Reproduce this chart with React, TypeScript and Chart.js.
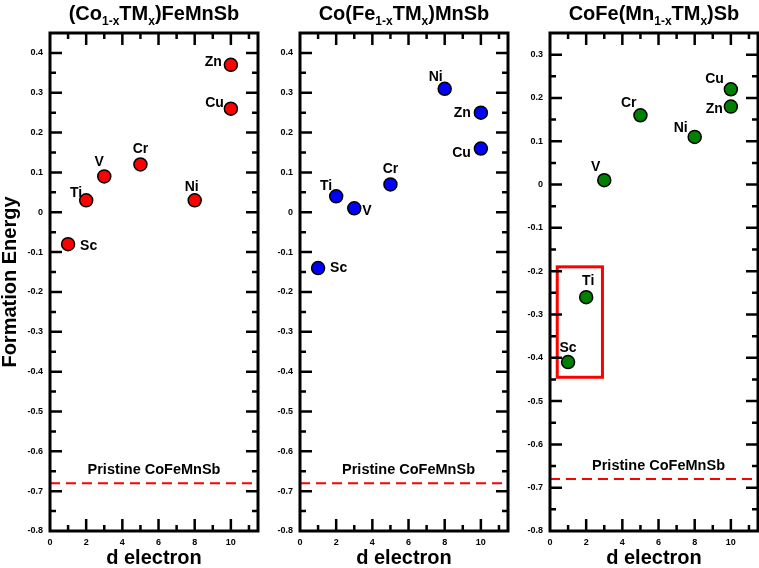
import React, { useEffect, useRef } from 'react';
import { Chart, registerables } from 'chart.js';

Chart.register(...registerables);

const FONT = '"Liberation Sans", Arial, sans-serif';
Chart.defaults.font.family = FONT;

// dopant elements and their number of d electrons
const ELEMENTS = ['Sc', 'Ti', 'V', 'Cr', 'Ni', 'Cu', 'Zn'];
const D_ELECTRONS = [1, 2, 3, 5, 8, 10, 10];

// formation energy per substituted site
const CO_SITE = [-0.08, 0.03, 0.09, 0.12, 0.03, 0.26, 0.37];
const FE_SITE = [-0.14, 0.04, 0.01, 0.07, 0.31, 0.16, 0.25];
const MN_SITE = [-0.41, -0.26, 0.01, 0.16, 0.11, 0.22, 0.18];

const PRISTINE = -0.68;
const PRISTINE_LABEL = 'Pristine CoFeMnSb';

const X_MIN = 0;
const X_MAX = 11.5;
const Y_MIN = -0.8;

// titles: [text, isSubscript]
const TITLE_CO = [['(Co', 0], ['1-x', 1], ['TM', 0], ['x', 1], [')FeMnSb', 0]];
const TITLE_FE = [['Co(Fe', 0], ['1-x', 1], ['TM', 0], ['x', 1], [')MnSb', 0]];
const TITLE_MN = [['CoFe(Mn', 0], ['1-x', 1], ['TM', 0], ['x', 1], [')Sb', 0]];

// label placement next to each point: [align, dx, dy]
const LABELS_CO = [['left', 12, 2], ['right', -4, -7], ['center', -5, -14], ['center', 0, -15], ['center', -3, -13], ['right', -7, -6], ['right', -9, -3]];
const LABELS_FE = [['left', 12, 0], ['right', -4, -10], ['left', 8, 3], ['center', 0, -15], ['right', -2, -12], ['right', -10, 5], ['right', -10, 0]];
const LABELS_MN = [['center', 0, -14], ['center', 2, -16], ['right', -4, -13], ['right', -4, -12], ['right', -7, -9], ['right', -7, -10], ['right', -8, 3]];

// highlight box on the Mn-site panel (data coords)
const BOX_MN = { x0: 0.4, x1: 2.9, y0: -0.19, y1: -0.445 };

const PLOT_W = 208;
const H = 568;

function Panel({ left, width, yWidth, yMax, values, color, title, labels, pristineX, showYTitle, box }: any) {
  const ref = useRef<HTMLCanvasElement | null>(null);

  useEffect(() => {
    if (!ref.current) return;

    const frame = {
      id: 'frame',
      afterDraw(chart: any) {
        const { ctx, chartArea: a, scales } = chart;
        const x = scales.x, y = scales.y;
        ctx.save();
        ctx.strokeStyle = '#000';
        ctx.lineWidth = 2.5;
        ctx.beginPath();
        for (let v = 1; v <= 11; v++) {
          const px = x.getPixelForValue(v);
          const len = v % 2 === 0 ? 12 : 6;
          ctx.moveTo(px, a.bottom); ctx.lineTo(px, a.bottom - len);
          ctx.moveTo(px, a.top); ctx.lineTo(px, a.top + len);
        }
        for (let k = Math.round(Y_MIN / 0.05) + 1; k * 0.05 < yMax - 0.001; k++) {
          const py = y.getPixelForValue(k * 0.05);
          const len = k % 2 === 0 ? 12 : 6;
          ctx.moveTo(a.left, py); ctx.lineTo(a.left + len, py);
          ctx.moveTo(a.right, py); ctx.lineTo(a.right - len, py);
        }
        ctx.stroke();
        ctx.lineWidth = 3;
        ctx.strokeRect(a.left, a.top, a.right - a.left, a.bottom - a.top);

        // title with subscripts
        const main = 'bold 20px ' + FONT;
        const sub = 'bold 12px ' + FONT;
        let total = 0;
        title.forEach(([t, s]: any) => { ctx.font = s ? sub : main; total += ctx.measureText(t).width; });
        let tx = (a.left + a.right) / 2 - total / 2;
        ctx.fillStyle = '#000';
        ctx.textAlign = 'left';
        ctx.textBaseline = 'alphabetic';
        title.forEach(([t, s]: any) => {
          ctx.font = s ? sub : main;
          ctx.fillText(t, tx, s ? 25 : 20);
          tx += ctx.measureText(t).width;
        });
        ctx.restore();
      },
    };

    const notes = {
      id: 'notes',
      afterDatasetsDraw(chart: any) {
        const { ctx, scales } = chart;
        const x = scales.x, y = scales.y;
        ctx.save();
        ctx.fillStyle = '#000';
        ctx.textBaseline = 'middle';
        ctx.font = 'bold 14px ' + FONT;
        chart.getDatasetMeta(1).data.forEach((pt: any, i: number) => {
          const [al, dx, dy] = labels[i];
          ctx.textAlign = al;
          ctx.fillText(ELEMENTS[i], pt.x + dx, pt.y + dy);
        });
        ctx.font = 'bold 14.5px ' + FONT;
        ctx.textAlign = 'center';
        ctx.fillText(PRISTINE_LABEL, x.getPixelForValue(pristineX), y.getPixelForValue(PRISTINE) - 13);
        if (box) {
          const bx0 = x.getPixelForValue(box.x0), bx1 = x.getPixelForValue(box.x1);
          const by0 = y.getPixelForValue(box.y0), by1 = y.getPixelForValue(box.y1);
          ctx.strokeStyle = '#ff0000';
          ctx.lineWidth = 3;
          ctx.strokeRect(bx0, by0, bx1 - bx0, by1 - by0);
        }
        ctx.restore();
      },
    };

    const tickFont = { family: FONT, size: 9, weight: 'bold' as const };
    const titleFont = { family: FONT, size: 20, weight: 'bold' as const, lineHeight: 1 };

    const chart = new Chart(ref.current, {
      type: 'scatter',
      data: {
        datasets: [
          {
            data: [{ x: X_MIN, y: PRISTINE }, { x: X_MAX, y: PRISTINE }],
            showLine: true,
            borderColor: '#ff0000',
            borderWidth: 2,
            borderDash: [10, 6],
            pointRadius: 0,
            order: 2,
          },
          {
            data: D_ELECTRONS.map((d, i) => ({ x: d, y: values[i] })),
            backgroundColor: color,
            borderColor: '#000',
            borderWidth: 1.5,
            pointRadius: 6.5,
            order: 1,
          },
        ],
      },
      options: {
        responsive: false,
        animation: false,
        events: [],
        layout: { autoPadding: false, padding: { top: 33, left: 0, bottom: 0, right: width - yWidth - PLOT_W } },
        plugins: { legend: { display: false }, tooltip: { enabled: false } },
        scales: {
          x: {
            type: 'linear',
            min: X_MIN,
            max: X_MAX,
            afterFit: (s: any) => { s.height = 37; s.paddingLeft = 0; s.paddingRight = 0; },
            grid: { display: false, drawTicks: false },
            border: { display: false },
            ticks: { stepSize: 2, includeBounds: false, padding: 6, maxRotation: 0, color: '#000', font: tickFont },
            title: { display: true, text: 'd electron', color: '#000', font: titleFont, padding: 0 },
          },
          y: {
            type: 'linear',
            min: Y_MIN,
            max: yMax,
            afterFit: (s: any) => { s.width = yWidth; s.paddingTop = 0; s.paddingBottom = 0; },
            grid: { display: false, drawTicks: false },
            border: { display: false },
            ticks: { stepSize: 0.1, includeBounds: false, padding: 7, color: '#000', font: tickFont },
            title: { display: showYTitle, text: 'Formation Energy', color: '#000', font: titleFont, padding: 0 },
          },
        },
      },
      plugins: [frame, notes],
    } as any);

    return () => chart.destroy();
  }, []);

  return (
    <canvas
      ref={ref}
      width={width}
      height={H}
      style={{ position: 'absolute', left, top: 0, width, height: H }}
    />
  );
}

export default function App() {
  return (
    <div style={{ position: 'fixed', left: 0, top: 0, width: 759, height: H, background: '#fff', overflow: 'hidden' }}>
      <Panel left={0} width={262} yWidth={50} yMax={0.45} values={CO_SITE} color="#ff0000"
        title={TITLE_CO} labels={LABELS_CO} pristineX={5.75} showYTitle={true} />
      <Panel left={262} width={250} yWidth={38} yMax={0.45} values={FE_SITE} color="#0000ff"
        title={TITLE_FE} labels={LABELS_FE} pristineX={6.0} showYTitle={false} />
      <Panel left={512} width={247} yWidth={38} yMax={0.35} values={MN_SITE} color="#008000"
        title={TITLE_MN} labels={LABELS_MN} pristineX={6.0} showYTitle={false} box={BOX_MN} />
    </div>
  );
}
